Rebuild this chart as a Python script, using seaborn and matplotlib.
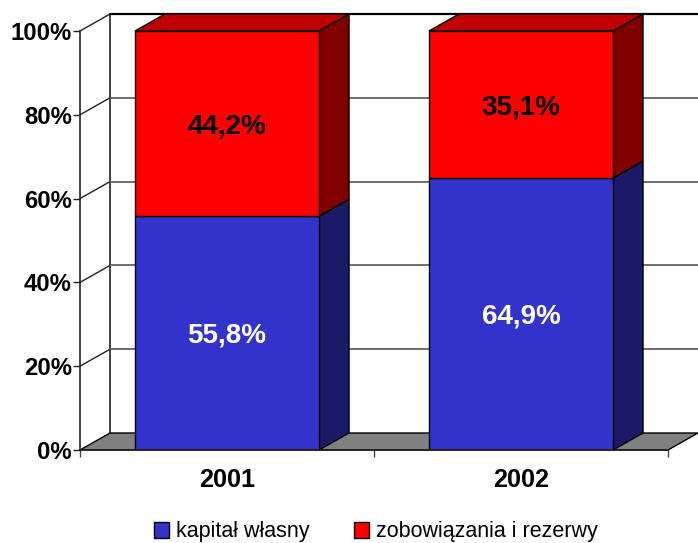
import matplotlib
matplotlib.use("Agg")
import matplotlib.pyplot as plt
from matplotlib.patches import Polygon
import seaborn as sns

years = ["2001", "2002"]
kapital = [55.8, 64.9]
zobowiazania = [44.2, 35.1]
kapital_labels = ["55,8%", "64,9%"]
zobowiazania_labels = ["44,2%", "35,1%"]
yticks = [0, 20, 40, 60, 80, 100]
series_names = ["kapitał własny", "zobowiązania i rezerwy"]

BLUE = "#3333CC"
BLUE_SIDE = "#1A1A66"
RED = "#FF0000"
RED_SIDE = "#800000"
RED_TOP = "#BF0000"
FLOOR = "#808080"

sns.set_theme(style="white")
plt.rcParams["font.family"] = ["Liberation Sans", "DejaVu Sans"]

W, H = 698, 543
fig = plt.figure(figsize=(W / 100, H / 100), dpi=100)
ax = fig.add_axes([80 / W, (H - 450) / H, 588 / W, 419 / H])

sns.barplot(x=years, y=kapital, color=BLUE, saturation=1, width=0.626,
            edgecolor="black", linewidth=1, ax=ax, label=series_names[0], zorder=3)
sns.barplot(x=years, y=zobowiazania, bottom=kapital, color=RED, saturation=1, width=0.626,
            edgecolor="black", linewidth=1, ax=ax, label=series_names[1], zorder=3)

ax.set_xlim(-0.5, 1.5)
ax.set_ylim(0, 100)

# depth of the fake 3d box, in data units
dx = 30 / 294
dy = 17 / 419 * 100


def face(points, color, z=2.5, lw=1):
    ax.add_patch(Polygon(points, closed=True, facecolor=color, edgecolor="black",
                         linewidth=lw, clip_on=False, zorder=z))


# floor and walls
face([(-0.5, 0), (1.5, 0), (1.5 + dx, dy), (-0.5 + dx, dy)], FLOOR, z=1.5)
ax.plot([-0.5 + dx, -0.5 + dx], [dy, 100 + dy], color="#222222", lw=1.2, clip_on=False, zorder=1)
for t in yticks[1:]:
    ax.plot([-0.5, -0.5 + dx], [t, t + dy], color="#222222", lw=1, clip_on=False, zorder=1)
    color = "black" if t == 100 else "#555555"
    ax.plot([-0.5 + dx, 1.5 + dx], [t + dy, t + dy], color=color, lw=1.6 if t == 100 else 1.2,
            clip_on=False, zorder=1)

# side and top faces of the stacks
for patch in ax.containers[0]:
    x1 = patch.get_x() + patch.get_width()
    h = patch.get_height()
    face([(x1, 0), (x1 + dx, dy), (x1 + dx, h + dy), (x1, h)], BLUE_SIDE)
for patch in ax.containers[1]:
    x0 = patch.get_x()
    x1 = x0 + patch.get_width()
    low = patch.get_y()
    high = low + patch.get_height()
    face([(x1, low), (x1 + dx, low + dy), (x1 + dx, high + dy), (x1, high)], RED_SIDE)
    face([(x0, high), (x1, high), (x1 + dx, high + dy), (x0 + dx, high + dy)], RED_TOP)

ax.bar_label(ax.containers[0], labels=kapital_labels, label_type="center", color="white",
             fontsize=20, fontweight="bold", zorder=5, padding=-2)
ax.bar_label(ax.containers[1], labels=zobowiazania_labels, label_type="center", color="black",
             fontsize=20, fontweight="bold", zorder=5, padding=-2)

sns.despine(ax=ax, top=True, right=True)
for side in ["left", "bottom"]:
    ax.spines[side].set_color("#222222")
    ax.spines[side].set_linewidth(1.2)
    ax.spines[side].set_zorder(4)

ax.set_yticks(yticks)
ax.set_yticklabels([f"{t}%" for t in yticks], fontsize=17.2, fontweight="bold", color="black")
ax.tick_params(axis="y", length=5, width=1, pad=1, left=True, color="#222222")

# ticks sit between the categories, labels under the bars
ax.set_xticks([-0.5, 0.5, 1.5])
ax.set_xticklabels([])
ax.set_xticks([0, 1], labels=years, minor=True)
ax.tick_params(axis="x", which="major", length=5, width=1, bottom=True, color="#444444")
ax.tick_params(axis="x", which="minor", length=0, pad=13, labelsize=18.2)
for lab in ax.get_xticklabels(minor=True):
    lab.set_fontweight("bold")
    lab.set_color("black")

ax.legend_.remove() if ax.legend_ else None
fig.legend(handles=[ax.containers[0][0], ax.containers[1][0]], labels=series_names,
           loc="center", bbox_to_anchor=(376 / W, (H - 532) / H), ncol=2, frameon=False,
           fontsize=15.5, handlelength=0.68, handleheight=0.72, handletextpad=0.35,
           columnspacing=2.05, labelcolor="black", borderpad=0, borderaxespad=0)

fig.savefig("out.png", dpi=100, facecolor="white")
